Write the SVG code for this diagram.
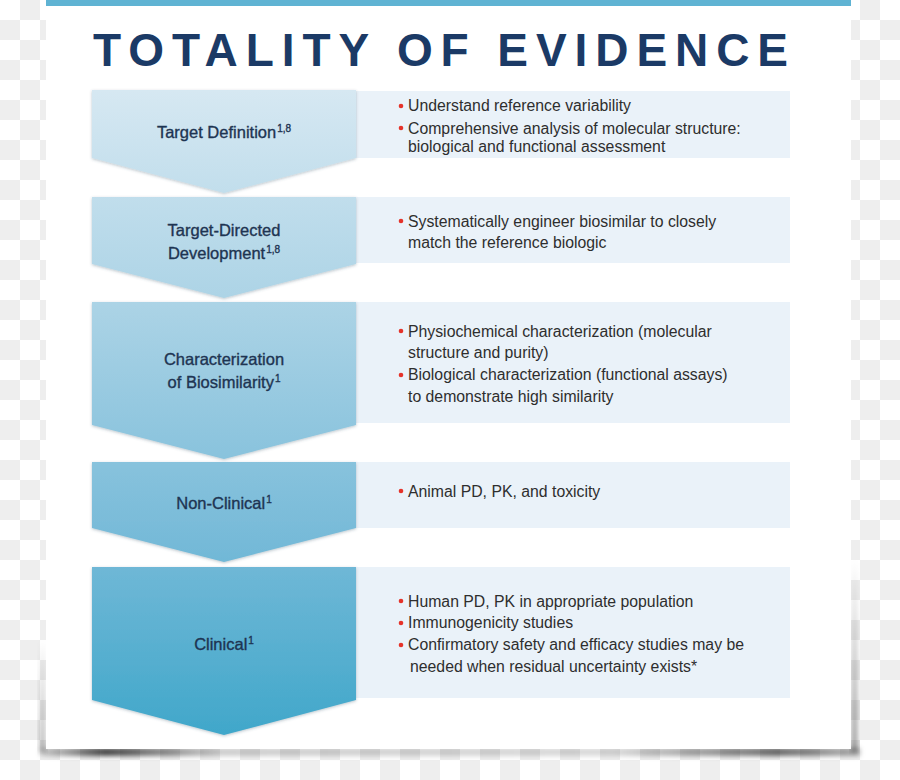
<svg xmlns="http://www.w3.org/2000/svg" width="900" height="780" viewBox="0 0 900 780">
<defs>
  <pattern id="checker" width="40" height="40" patternUnits="userSpaceOnUse">
    <rect width="40" height="40" fill="#ffffff"/>
    <rect x="20" y="0" width="20" height="20" fill="#eeeeee"/>
    <rect x="0" y="20" width="20" height="20" fill="#eeeeee"/>
  </pattern>
  <linearGradient id="chev" gradientUnits="userSpaceOnUse" x1="0" y1="90" x2="0" y2="735">
    <stop offset="0" stop-color="#d6e8f2"/>
    <stop offset="0.35" stop-color="#a9d2e5"/>
    <stop offset="0.7" stop-color="#76bad8"/>
    <stop offset="1" stop-color="#40a7ca"/>
  </linearGradient>
  <linearGradient id="botshade" x1="0" y1="0" x2="1" y2="0">
    <stop offset="0" stop-color="#000" stop-opacity="0.15"/>
    <stop offset="0.08" stop-color="#000" stop-opacity="0.75"/>
    <stop offset="0.22" stop-color="#000" stop-opacity="0.2"/>
    <stop offset="0.7" stop-color="#000" stop-opacity="0.15"/>
    <stop offset="0.9" stop-color="#000" stop-opacity="0.6"/>
    <stop offset="1" stop-color="#000" stop-opacity="0.3"/>
  </linearGradient>
  <linearGradient id="sideshadeR" x1="0" y1="0" x2="0" y2="1">
    <stop offset="0" stop-color="#000" stop-opacity="0"/>
    <stop offset="1" stop-color="#000" stop-opacity="0.35"/>
  </linearGradient>
  <linearGradient id="sideshadeL" x1="0" y1="0" x2="0" y2="1">
    <stop offset="0" stop-color="#000" stop-opacity="0"/>
    <stop offset="1" stop-color="#000" stop-opacity="0.25"/>
  </linearGradient>
  <filter id="ds" x="-10%" y="-10%" width="120%" height="130%">
    <feDropShadow dx="0" dy="1" stdDeviation="1.8" flood-color="#3a5a70" flood-opacity="0.35"/>
  </filter>
  <filter id="blur" x="-20%" y="-200%" width="140%" height="500%">
    <feGaussianBlur stdDeviation="2.5"/>
  </filter>
  <style>
    .lbl { font-family: "Liberation Sans", Arial, sans-serif; font-size: 16.5px; fill: #1e3452; stroke: #1e3452; stroke-width: 0.35; text-anchor: middle; }
    .txt { font-family: "Liberation Sans", Arial, sans-serif; font-size: 15.8px; fill: #2e2e2e; }
    .sup { font-size: 10px; }
    .panel { fill: #eaf2f9; }
    .bul { fill: #e5332a; }
    .chev { fill: url(#chev); filter: url(#ds); }
  </style>
</defs>

<rect width="900" height="780" fill="url(#checker)"/>

<g id="card">
  <rect x="40" y="748" width="820" height="8" fill="url(#botshade)" filter="url(#blur)"/>
  <rect x="851" y="560" width="7" height="192" fill="url(#sideshadeR)" filter="url(#blur)"/>
  <rect x="39" y="640" width="7" height="112" fill="url(#sideshadeL)" filter="url(#blur)"/>
  <rect x="46" y="0" width="805" height="749" fill="#ffffff"/>
  <rect x="46" y="0" width="805" height="6" fill="#5fb3d3"/>
</g>

<g id="title">
  <text x="93" y="66" textLength="695" lengthAdjust="spacing" style="font-family:'Liberation Sans',Arial,sans-serif;font-size:46px;font-weight:bold;fill:#1b3a66;">TOTALITY OF EVIDENCE</text>
</g>

<g id="panels">
  <rect class="panel" x="356" y="91" width="434" height="67"/>
  <rect class="panel" x="356" y="197" width="434" height="66"/>
  <rect class="panel" x="356" y="302" width="434" height="121"/>
  <rect class="panel" x="356" y="462" width="434" height="66"/>
  <rect class="panel" x="356" y="567" width="434" height="131"/>
</g>

<g id="connectors"></g>

<g id="node-target-definition">
  <path class="chev" d="M92,90 H356 V158 L224,193 L92,158 Z"/>
  <text class="lbl" x="224" y="138">Target Definition<tspan class="sup" dx="1" dy="-6">1,8</tspan></text>
  <circle class="bul" cx="401" cy="106" r="2.3"/>
  <text class="txt" x="408" y="111">Understand reference variability</text>
  <circle class="bul" cx="401" cy="128" r="2.3"/>
  <text class="txt" x="408" y="133.5">Comprehensive analysis of molecular structure:</text>
  <text class="txt" x="408" y="151.5">biological and functional assessment</text>
</g>

<g id="node-target-directed">
  <path class="chev" d="M92,197 H356 V264 L224,298 L92,264 Z"/>
  <text class="lbl" x="224" y="236">Target-Directed</text>
  <text class="lbl" x="224" y="259">Development<tspan class="sup" dx="1" dy="-6">1,8</tspan></text>
  <circle class="bul" cx="401" cy="221" r="2.3"/>
  <text class="txt" x="408" y="226.5">Systematically engineer biosimilar to closely</text>
  <text class="txt" x="408" y="248">match the reference biologic</text>
</g>

<g id="node-characterization">
  <path class="chev" d="M92,302 H356 V425 L224,459 L92,425 Z"/>
  <text class="lbl" x="224" y="365">Characterization</text>
  <text class="lbl" x="224" y="388">of Biosimilarity<tspan class="sup" dx="1" dy="-6">1</tspan></text>
  <circle class="bul" cx="401" cy="331" r="2.3"/>
  <text class="txt" x="408" y="336.5">Physiochemical characterization (molecular</text>
  <text class="txt" x="408" y="358">structure and purity)</text>
  <circle class="bul" cx="401" cy="375" r="2.3"/>
  <text class="txt" x="408" y="380">Biological characterization (functional assays)</text>
  <text class="txt" x="408" y="401.5">to demonstrate high similarity</text>
</g>

<g id="node-non-clinical">
  <path class="chev" d="M92,462 H356 V528 L224,562 L92,528 Z"/>
  <text class="lbl" x="224" y="509">Non-Clinical<tspan class="sup" dx="1" dy="-6">1</tspan></text>
  <circle class="bul" cx="401" cy="491" r="2.3"/>
  <text class="txt" x="408" y="496.5">Animal PD, PK, and toxicity</text>
</g>

<g id="node-clinical">
  <path class="chev" d="M92,567 H356 V700 L224,735 L92,700 Z"/>
  <text class="lbl" x="224" y="650">Clinical<tspan class="sup" dx="1" dy="-6">1</tspan></text>
  <circle class="bul" cx="401" cy="601" r="2.3"/>
  <text class="txt" x="408" y="606.5">Human PD, PK in appropriate population</text>
  <circle class="bul" cx="401" cy="623" r="2.3"/>
  <text class="txt" x="408" y="628">Immunogenicity studies</text>
  <circle class="bul" cx="401" cy="645" r="2.3"/>
  <text class="txt" x="408" y="650">Confirmatory safety and efficacy studies may be</text>
  <text class="txt" x="410" y="671.5">needed when residual uncertainty exists*</text>
</g>
</svg>
